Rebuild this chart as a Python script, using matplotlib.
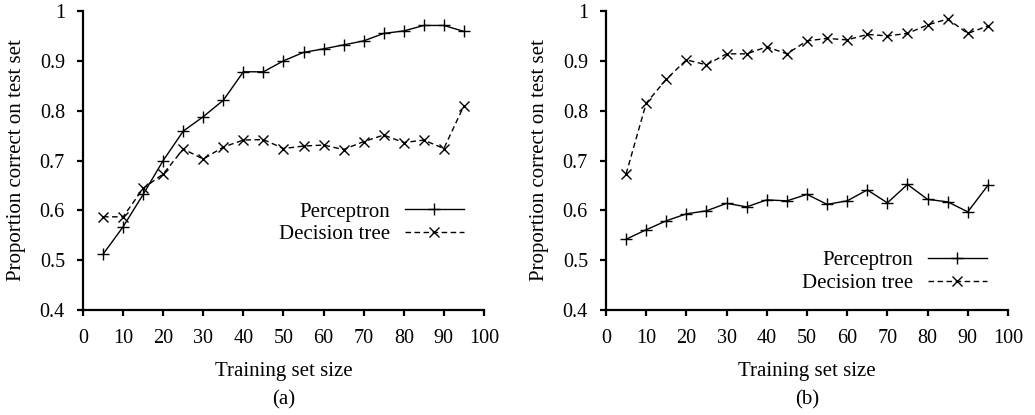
import matplotlib.pyplot as plt

plt.rcParams['font.family'] = ['Liberation Serif', 'DejaVu Serif']
plt.rcParams['font.size'] = 15

sizes = [5, 10, 15, 20, 25, 30, 35, 40, 45, 50, 55, 60, 65, 70, 75, 80, 85, 90, 95]

# (a)
perc_a = [0.512, 0.567, 0.632, 0.700, 0.759, 0.788, 0.821, 0.878, 0.878, 0.900,
          0.917, 0.924, 0.932, 0.940, 0.955, 0.960, 0.971, 0.971, 0.959]
tree_a = [0.587, 0.587, 0.644, 0.673, 0.723, 0.703, 0.727, 0.741, 0.742, 0.724,
          0.729, 0.731, 0.722, 0.738, 0.751, 0.736, 0.741, 0.724, 0.810]

# (b)
perc_b = [0.542, 0.561, 0.579, 0.593, 0.599, 0.614, 0.607, 0.621, 0.619, 0.632,
          0.612, 0.619, 0.641, 0.615, 0.652, 0.622, 0.617, 0.597, 0.650]
tree_b = [0.673, 0.815, 0.863, 0.902, 0.892, 0.914, 0.914, 0.928, 0.914, 0.940,
          0.945, 0.942, 0.953, 0.950, 0.955, 0.972, 0.984, 0.955, 0.970]

xticks = [0, 10, 20, 30, 40, 50, 60, 70, 80, 90, 100]
yticks = [0.4, 0.5, 0.6, 0.7, 0.8, 0.9, 1.0]
ytick_labels = ['0.4', '0.5', '0.6', '0.7', '0.8', '0.9', '1']

fig = plt.figure(figsize=(10.35, 4.15), dpi=100)
ax_a = fig.add_axes([0.0802, 0.253, 0.3874, 0.7205])
ax_b = fig.add_axes([0.5855, 0.253, 0.3884, 0.7205])


def draw(ax, perc, tree, tag, legend_anchor):
    ax.plot(sizes, perc, color='black', linestyle='-', linewidth=1.0,
            marker='+', markersize=8.5, markeredgewidth=1.0, label='Perceptron')
    ax.plot(sizes, tree, color='black', linestyle=(0, (4, 2.5)), linewidth=1.0,
            marker='x', markersize=7, markeredgewidth=1.0, label='Decision tree')
    ax.set_xlim(0, 100)
    ax.set_ylim(0.4, 1.0)
    ax.set_xticks(xticks)
    ax.set_yticks(yticks)
    ax.set_yticklabels(ytick_labels)
    for side in ['top', 'right']:
        ax.spines[side].set_visible(False)
    for side in ['left', 'bottom']:
        ax.spines[side].set_linewidth(1.6)
    ax.tick_params(direction='out', length=4, width=1.6, labelsize=14.5)
    ax.tick_params(axis='x', pad=10)
    ax.tick_params(axis='y', pad=9)
    ax.set_xlabel('Training set size', va='center')
    ax.xaxis.set_label_coords(0.5, -0.207)
    ax.set_ylabel('Proportion correct on test set')
    ax.yaxis.set_label_coords(-0.142, 0.5)
    ax.text(0.5, -0.30, tag, transform=ax.transAxes, ha='center', va='center')
    ax.legend(loc='center right', bbox_to_anchor=legend_anchor, frameon=False,
              markerfirst=False, handlelength=2.85, handletextpad=0.7,
              labelspacing=0.15, borderaxespad=0, borderpad=0)


draw(ax_a, perc_a, tree_a, '(a)', (0.950, 0.29))
draw(ax_b, perc_b, tree_b, '(b)', (0.948, 0.127))

fig.savefig('out.png', dpi=100)
